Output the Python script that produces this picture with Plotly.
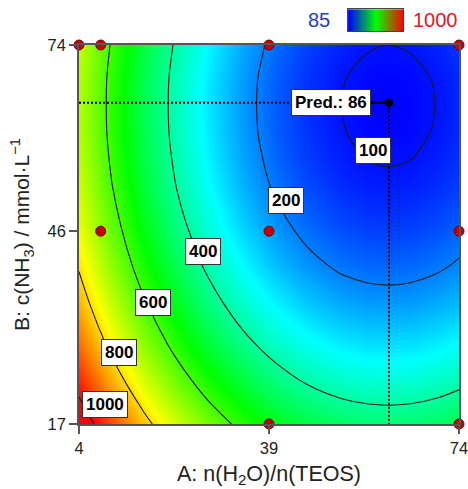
import plotly.graph_objects as go

# ---- data ----
A_grid = [4, 10, 16, 22, 28, 34, 40, 46, 52, 57, 61, 65, 70, 74]
B_grid = [17, 23, 29, 35, 41, 47, 53, 57, 61, 65, 69, 74]
Z_grid = [
    [1056, 933, 824, 728, 646, 578, 523, 482, 454, 442, 439, 442, 454, 471],
    [973, 850, 741, 645, 563, 495, 440, 399, 371, 359, 356, 359, 371, 388],
    [901, 778, 669, 573, 491, 423, 368, 327, 299, 287, 284, 287, 299, 316],
    [841, 718, 609, 513, 431, 363, 308, 267, 239, 227, 224, 227, 239, 256],
    [791, 668, 559, 463, 381, 313, 258, 217, 189, 177, 174, 177, 189, 206],
    [753, 630, 521, 425, 343, 275, 220, 179, 151, 139, 136, 139, 151, 168],
    [725, 602, 493, 397, 315, 247, 192, 151, 123, 111, 108, 111, 123, 140],
    [713, 590, 481, 385, 303, 235, 180, 139, 111, 99, 96, 99, 111, 128],
    [705, 582, 473, 377, 295, 227, 172, 131, 103, 91, 88, 91, 103, 120],
    [703, 580, 471, 375, 293, 225, 170, 129, 101, 89, 86, 89, 101, 118],
    [705, 582, 473, 377, 295, 227, 172, 131, 103, 91, 88, 91, 103, 120],
    [717, 594, 485, 389, 307, 239, 184, 143, 115, 103, 100, 103, 115, 132],
]
z_min, z_max = 85, 1000

design_A = [4, 8, 39, 74, 8, 39, 74, 39, 74]
design_B = [74, 74, 74, 74, 46, 46, 46, 17, 17]

label_text = ["100", "200", "400", "600", "800", "1000"]
label_A = [58.2, 42.1, 26.8, 17.7, 11.3, 8.8]
label_B = [58.2, 50.6, 43.0, 35.3, 27.7, 20.0]

pred_A, pred_B, pred_val = 61.1, 65.3, 86
pred_label_A = 50.5

x_ticks = [4, 39, 74]
y_ticks = [17, 46, 74]

FONT = "Arial, Liberation Sans, sans-serif"
scale = [[0, "rgb(0,0,255)"], [0.25, "rgb(0,255,255)"], [0.5, "rgb(0,255,0)"],
         [0.75, "rgb(255,255,0)"], [1, "rgb(255,0,0)"]]

fig = go.Figure()

fig.add_trace(go.Contour(
    x=A_grid, y=B_grid, z=Z_grid, zmin=z_min, zmax=z_max, colorscale=scale,
    showscale=False, hoverinfo="skip",
    contours=dict(coloring="heatmap", start=200, end=1000, size=200, showlabels=False),
    line=dict(color="#1a1a1a", width=1.1, smoothing=0.8),
))
fig.add_trace(go.Contour(
    x=A_grid, y=B_grid, z=Z_grid, showscale=False, hoverinfo="skip",
    contours=dict(coloring="none", start=100, end=100, size=100, showlabels=False),
    line=dict(color="#1a1a1a", width=1.1, smoothing=0.8),
))

# prediction guide lines
fig.add_trace(go.Scatter(x=[x_ticks[0], pred_A], y=[pred_B, pred_B], mode="lines",
                         line=dict(color="black", width=2, dash="2px,2px"),
                         hoverinfo="skip", showlegend=False, cliponaxis=False))
fig.add_trace(go.Scatter(x=[pred_A, pred_A], y=[pred_B, y_ticks[0]], mode="lines",
                         line=dict(color="black", width=2, dash="2px,2px"),
                         hoverinfo="skip", showlegend=False))
fig.add_trace(go.Scatter(x=[pred_label_A, pred_A], y=[pred_B, pred_B], mode="lines",
                         line=dict(color="black", width=2),
                         hoverinfo="skip", showlegend=False))
fig.add_trace(go.Scatter(x=[pred_A], y=[pred_B], mode="markers",
                         marker=dict(color="black", size=8),
                         hoverinfo="skip", showlegend=False))

# design points
fig.add_trace(go.Scatter(x=design_A, y=design_B, mode="markers",
                         marker=dict(color="#c40000", size=10,
                                     line=dict(color="#7a0000", width=1)),
                         cliponaxis=False, showlegend=False))

# legend gradient bar
fig.add_trace(go.Heatmap(z=[[z_min, z_max]], x=[0, 1], y=[0], zsmooth="best",
                         colorscale=[[0, "rgb(0,0,255)"], [0.5, "rgb(0,255,0)"],
                                     [1, "rgb(255,0,0)"]],
                         zmin=z_min, zmax=z_max, showscale=False,
                         xaxis="x2", yaxis="y2", hoverinfo="skip"))

annotations = []
for t, a, b in zip(label_text, label_A, label_B):
    annotations.append(dict(x=a, y=b, xref="x", yref="y", text="<b>%s</b>" % t,
                            showarrow=False, font=dict(family=FONT, size=17, color="black"),
                            bgcolor="white", bordercolor="#333", borderwidth=1, borderpad=3))
annotations.append(dict(x=pred_label_A, y=pred_B, xref="x", yref="y",
                        text="<b>Pred.: %d</b>" % pred_val, showarrow=False,
                        font=dict(family=FONT, size=17, color="black"),
                        bgcolor="white", bordercolor="#333", borderwidth=1, borderpad=3))
annotations.append(dict(x=0.6316, y=0.964, xref="paper", yref="paper", text=str(z_min),
                        xanchor="center", yanchor="middle", showarrow=False,
                        font=dict(family=FONT, size=20, color="#1f3fbf")))
annotations.append(dict(x=0.937, y=0.964, xref="paper", yref="paper", text=str(z_max),
                        xanchor="center", yanchor="middle", showarrow=False,
                        font=dict(family=FONT, size=20, color="#e8141e")))

axis_common = dict(showgrid=False, zeroline=False, showline=True, mirror=True,
                   linecolor="#555", linewidth=1.5, ticks="outside", ticklen=8,
                   tickcolor="#555", tickwidth=1.5, ticklabeloverflow="allow",
                   tickfont=dict(family=FONT, size=16.5, color="#222"))

fig.update_layout(
    width=468, height=489,
    margin=dict(l=79, r=9, t=5, b=65, autoexpand=False),
    paper_bgcolor="white", plot_bgcolor="white",
    showlegend=False,
    font=dict(family=FONT),
    xaxis=dict(range=[x_ticks[0], x_ticks[-1]], tickvals=x_ticks,
               title=dict(text="A: n(H<sub>2</sub>O)/n(TEOS)", standoff=10,
                          font=dict(family=FONT, size=21.5, color="#222")),
               **axis_common),
    yaxis=dict(range=[y_ticks[0], y_ticks[-1]], tickvals=y_ticks, domain=[0, 0.9045],
               title=dict(text="B: c(NH<sub>3</sub>) / mmol·L<sup>−1</sup>", standoff=12,
                          font=dict(family=FONT, size=21, color="#222")),
               **axis_common),
    xaxis2=dict(domain=[0.708, 0.853], range=[0, 1], showticklabels=False, ticks="",
                showgrid=False, zeroline=False, showline=True, mirror=True,
                linecolor="#444", linewidth=1, anchor="y2", fixedrange=True),
    yaxis2=dict(domain=[0.938, 0.990], range=[-0.5, 0.5], showticklabels=False, ticks="",
                showgrid=False, zeroline=False, showline=True, mirror=True,
                linecolor="#444", linewidth=1, anchor="x2", fixedrange=True),
    annotations=annotations,
)

fig.write_html("out.html")
